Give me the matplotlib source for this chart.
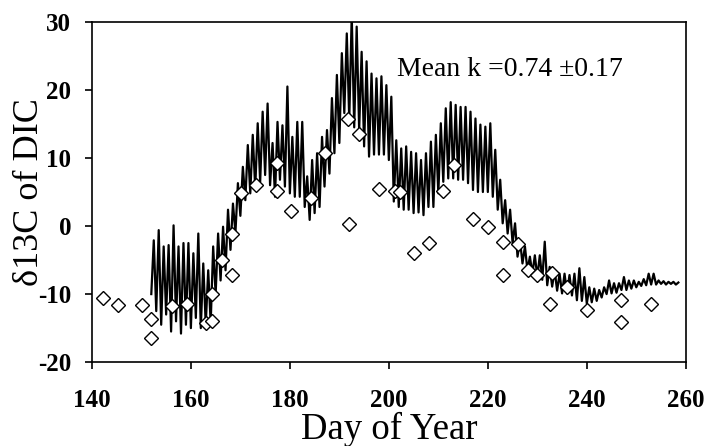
import numpy as np
import matplotlib
matplotlib.use("Agg")
import matplotlib.pyplot as plt

plt.rcParams['font.family'] = ['Liberation Serif', 'DejaVu Serif']
plt.rcParams['axes.unicode_minus'] = False

# discrete samples (diamonds)
sample_day = [142.2, 145.3, 150.2, 152.0, 152.0, 156.2, 159.3, 163.0, 164.2, 164.2,
              166.2, 168.3, 168.3, 170.2, 173.1, 177.3, 177.3, 180.3, 184.2, 187.1,
              191.8, 192.0, 194.0, 198.0, 201.2, 202.2, 205.1, 208.1, 211.0, 213.1,
              217.0, 220.1, 223.1, 223.1, 226.1, 228.1, 230.0, 232.5, 232.9, 236.0,
              240.1, 247.0, 247.0, 252.9]
sample_d13c = [-10.6, -11.6, -11.6, -13.7, -16.5, -11.8, -11.4, -14.2, -13.9, -10.0,
               -5.0, -7.2, -1.2, 4.9, 6.0, 5.2, 9.2, 2.2, 4.1, 10.8,
               15.7, 0.3, 13.5, 5.5, 5.2, 5.0, -3.9, -2.5, 5.2, 9.0,
               1.1, -0.1, -2.3, -7.2, -2.7, -6.4, -7.2, -11.4, -6.9, -9.0,
               -12.3, -10.9, -14.1, -11.5]

# modelled series: daily low / high, days 152..258
line_days = np.arange(152, 259)
line_low = [-10.0, -12.5, -14.5, -13.0, -15.5, -14.0, -15.8, -14.5, -15.0, -13.5,
            -15.0, -14.5, -14.3, -10.0, -8.0, -6.5, -3.5, -1.0, 1.5, 3.8,
            4.8, 5.5, 6.5, 7.5, 6.0, 4.3, 6.8, 5.8, 4.8, 4.3,
            4.3, 2.8, 0.9, 1.9, 2.8, 5.8, 7.7, 10.7, 12.2, 16.6,
            15.6, 14.5, 14.1, 11.7, 10.2, 10.5, 10.5, 10.5, 9.7, 3.6,
            2.8, 2.4, 2.4, 1.9, 2.0, 1.6, 2.8, 2.8, 4.8, 6.5,
            7.0, 7.0, 6.8, 6.8, 6.3, 5.3, 5.0, 5.0, 5.0, 4.3,
            2.4, 0.4, -1.1, -2.5, -4.5, -5.5, -6.5, -7.0, -7.5, -7.9,
            -8.7, -8.9, -9.5, -9.9, -9.9, -10.2, -10.9, -11.0, -11.4, -11.2,
            -11.0, -10.5, -10.0, -9.9, -9.8, -9.4, -9.4, -9.2, -9.0, -8.8,
            -8.7, -8.6, -8.6, -8.5, -8.6, -8.5, -8.6]
line_high = [-2.1, -0.6, -3.0, -2.8, 0.1, -3.0, -2.5, -2.5, -4.0, -1.1,
             -5.5, -6.5, -3.0, -1.1, -0.1, 2.4, 3.3, 6.3, 8.7, 11.9,
             13.4, 15.1, 16.8, 18.0, 12.2, 15.3, 14.8, 20.5, 13.1, 15.3,
             15.3, 7.3, 9.7, 10.7, 13.1, 14.1, 18.8, 22.2, 25.4, 28.3,
             31.0, 29.3, 25.6, 24.2, 22.4, 21.7, 22.0, 20.7, 19.0, 12.6,
             11.4, 11.7, 10.9, 10.7, 9.7, 10.7, 12.4, 13.4, 15.1, 17.3,
             18.2, 17.8, 17.5, 17.5, 16.8, 15.8, 14.9, 14.6, 15.1, 11.2,
             6.8, 3.8, 2.4, 0.4, -2.1, -3.0, -4.5, -4.3, -4.3, -2.3,
             -6.0, -6.5, -7.0, -7.0, -7.2, -7.0, -6.2, -7.5, -9.0, -9.2,
             -9.4, -9.0, -8.0, -8.4, -8.4, -7.5, -8.0, -8.0, -8.2, -7.8,
             -7.0, -7.0, -8.0, -8.1, -8.2, -8.2, -8.3]

x_ticks = [140, 160, 180, 200, 220, 240, 260]
y_ticks = [-20, -10, 0, 10, 20, 30]

line_x = np.column_stack([line_days, line_days + 0.5]).ravel()
line_y = np.column_stack([line_low, line_high]).ravel()

fig = plt.figure(figsize=(7.07, 4.46), dpi=100)
ax = fig.add_axes([0.130, 0.188, 0.840, 0.763])

ax.plot(line_x, line_y, color="black", lw=1.6, zorder=2)
ax.plot(sample_day, sample_d13c, "D", ms=7.5, mfc="white", mec="black",
        mew=1.0, zorder=3, clip_on=False)

ax.set_xlim(140, 260)
ax.set_ylim(-20, 30)
ax.set_xticks(x_ticks)
ax.set_yticks(y_ticks)
ax.tick_params(direction="out", length=5, width=1.2, labelsize=18)
ax.tick_params(axis="x", pad=14)
ax.tick_params(axis="y", pad=10)
for lab in ax.get_xticklabels() + ax.get_yticklabels():
    lab.set_fontweight("bold")
for sp in ax.spines.values():
    sp.set_linewidth(1.2)

ax.set_xlabel("Day of Year", fontsize=26.5)
ax.set_ylabel("δ13C of DIC", fontsize=26)
ax.xaxis.set_label_coords(0.5, -0.147)
ax.yaxis.set_label_coords(-0.077, 0.5)

ax.text(201.6, 22.1, "Mean k =0.74 ±0.17", fontsize=20, ha="left", va="baseline")

fig.savefig("out.png", dpi=100)
